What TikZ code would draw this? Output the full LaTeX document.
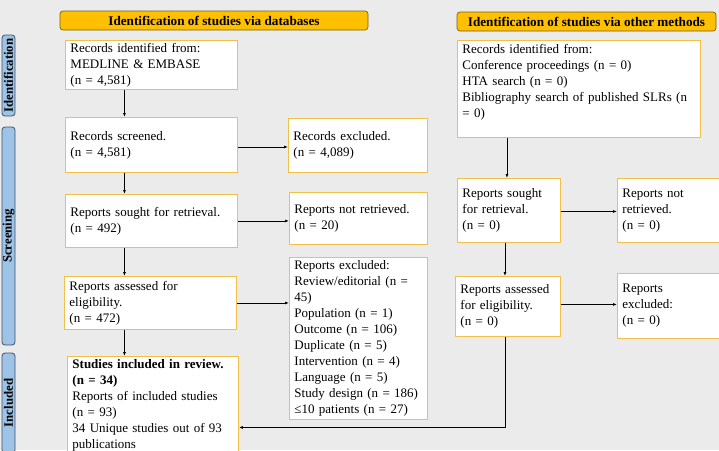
\documentclass[tikz,border=0pt]{standalone}
\usepackage{fontspec}
\setmainfont{Liberation Serif}
\usetikzlibrary{calc}
\usetikzlibrary{arrows.meta}
\definecolor{bgGray}{RGB}{235,235,235}
\definecolor{boxLine}{RGB}{240,193,70}
\definecolor{headFill}{RGB}{255,192,0}
\definecolor{headLine}{RGB}{120,95,20}
\definecolor{sideFill}{RGB}{157,195,230}
\definecolor{sideLine}{RGB}{65,80,100}

\begin{document}
\begin{tikzpicture}[x=1pt,y=-1pt,
  box/.style={draw=boxLine, line width=0.9pt, fill=white, anchor=north west,
    align=left, inner xsep=5pt, inner ysep=1pt,
    font=\fontsize{13}{16}\selectfont},
  head/.style={draw=headLine, fill=headFill, rounded corners=3pt, line width=0.7pt,
    font=\fontsize{13.2}{15}\selectfont\bfseries, inner sep=0pt},
  side/.style={draw=sideLine, fill=sideFill, rounded corners=3pt, line width=0.8pt,
    rotate=90, minimum height=13pt, inner sep=0pt,
    font=\fontsize{12.8}{14}\selectfont\bfseries},
  arr/.style={-{Latex[length=4pt,width=3pt]}, line width=0.8pt}]
\clip (0,0) rectangle (719,450);
\fill[bgGray] (0,0) rectangle (719,450);
% side bars
\node[side, minimum width=81pt] (sId) at (8.5,75.5) {Identification};
\node[side, minimum width=218pt] (sScr) at (8.5,236) {Screening};
\node[side, minimum width=100pt] (sInc) at (8.5,403) {Included};
% headers
\node[head, minimum width=308pt, minimum height=19pt] (hDB) at (214,20.5)
  {Identification of studies via databases};
\node[head, minimum width=259pt, minimum height=19pt] (hOT) at (586.5,21.5)
  {Identification of studies via other methods};
% databases column
\node[box, text width=162pt, minimum height=49pt] (recDB) at (65,40)
  {Records identified from:\\MEDLINE \& EMBASE\\(n = 4,581)};
\node[box, text width=162pt, minimum height=55pt] (scrDB) at (65,117)
  {Records screened.\\(n = 4,581)};
\node[box, text width=129pt, minimum height=54pt] (exclDB) at (288,118)
  {Records excluded.\\(n = 4,089)};
\node[box, text width=162pt, minimum height=53pt] (soughtDB) at (65,194)
  {Reports sought for retrieval.\\(n = 492)};
\node[box, text width=128pt, minimum height=52pt] (notretDB) at (289,192)
  {Reports not retrieved.\\(n = 20)};
\node[box, text width=162pt, minimum height=53pt] (assessDB) at (64,276)
  {Reports assessed for\\eligibility.\\(n = 472)};
\node[box, text width=128pt, minimum height=162pt] (rexclDB) at (289,257)
  {Reports excluded:\\Review/editorial (n =\\45)\\Population (n = 1)\\Outcome (n = 106)\\Duplicate (n = 5)\\Intervention (n = 4)\\Language (n = 5)\\Study design (n = 186)\\≤10 patients (n = 27)};
\node[box, text width=161pt, minimum height=98pt] (inclDB) at (67,356)
  {\textbf{Studies included in review.}\\\textbf{(n = 34)}\\Reports of included studies\\(n = 93)\\34 Unique studies out of 93\\publications};
% other methods column
\node[box, text width=233pt, minimum height=97pt] (recOT) at (457,40)
  {Records identified from:\\Conference proceedings (n = 0)\\HTA search (n = 0)\\Bibliography search of published SLRs (n\\= 0)\\\mbox{}};
\node[box, text width=93pt, minimum height=64pt] (soughtOT) at (457,178)
  {Reports sought\\for retrieval.\\(n = 0)};
\node[box, text width=110pt, minimum height=64pt] (notretOT) at (617,178)
  {Reports not\\retrieved.\\(n = 0)};
\node[box, text width=95pt, minimum height=60pt] (assessOT) at (455,276)
  {Reports assessed\\for eligibility.\\(n = 0)};
\node[box, text width=110pt, minimum height=65pt] (rexclOT) at (617,273)
  {Reports\\excluded:\\(n = 0)};
% arrows, databases
\draw[arr] ([xshift=-27pt]recDB.south) -- ([xshift=-27pt]recDB.south |- scrDB.north);
\draw[arr] ([xshift=-27pt]scrDB.south) -- ([xshift=-27pt]scrDB.south |- soughtDB.north);
\draw[arr] ([xshift=-27pt]soughtDB.south) -- ([xshift=-27pt]soughtDB.south |- assessDB.north);
\draw[arr] ([xshift=-26pt]assessDB.south) -- ([xshift=-26pt]assessDB.south |- inclDB.north);
\draw[arr] ([yshift=-2pt]scrDB.east) -- ([yshift=-2pt]scrDB.east -| exclDB.west);
\draw[arr] (soughtDB.east) -- (soughtDB.east -| notretDB.west);
\draw[arr] (assessDB.east) -- (assessDB.east -| rexclDB.west);
% arrows, other methods
\draw[arr] ([xshift=-2pt]soughtOT.north |- recOT.south) -- ([xshift=-2pt]soughtOT.north);
\draw[arr] ([xshift=-4pt]soughtOT.south) -- ([xshift=-4pt]soughtOT.south |- assessOT.north);
\draw[arr] ([yshift=-1pt]soughtOT.east) -- ([yshift=-1pt]soughtOT.east -| notretOT.west);
\draw[arr] ([yshift=2pt]assessOT.east) -- ([yshift=2pt]assessOT.east -| rexclOT.west);
\draw[arr] ([xshift=-3pt]assessOT.south) |- ([yshift=-22pt]inclDB.east);
\end{tikzpicture}
\end{document}
